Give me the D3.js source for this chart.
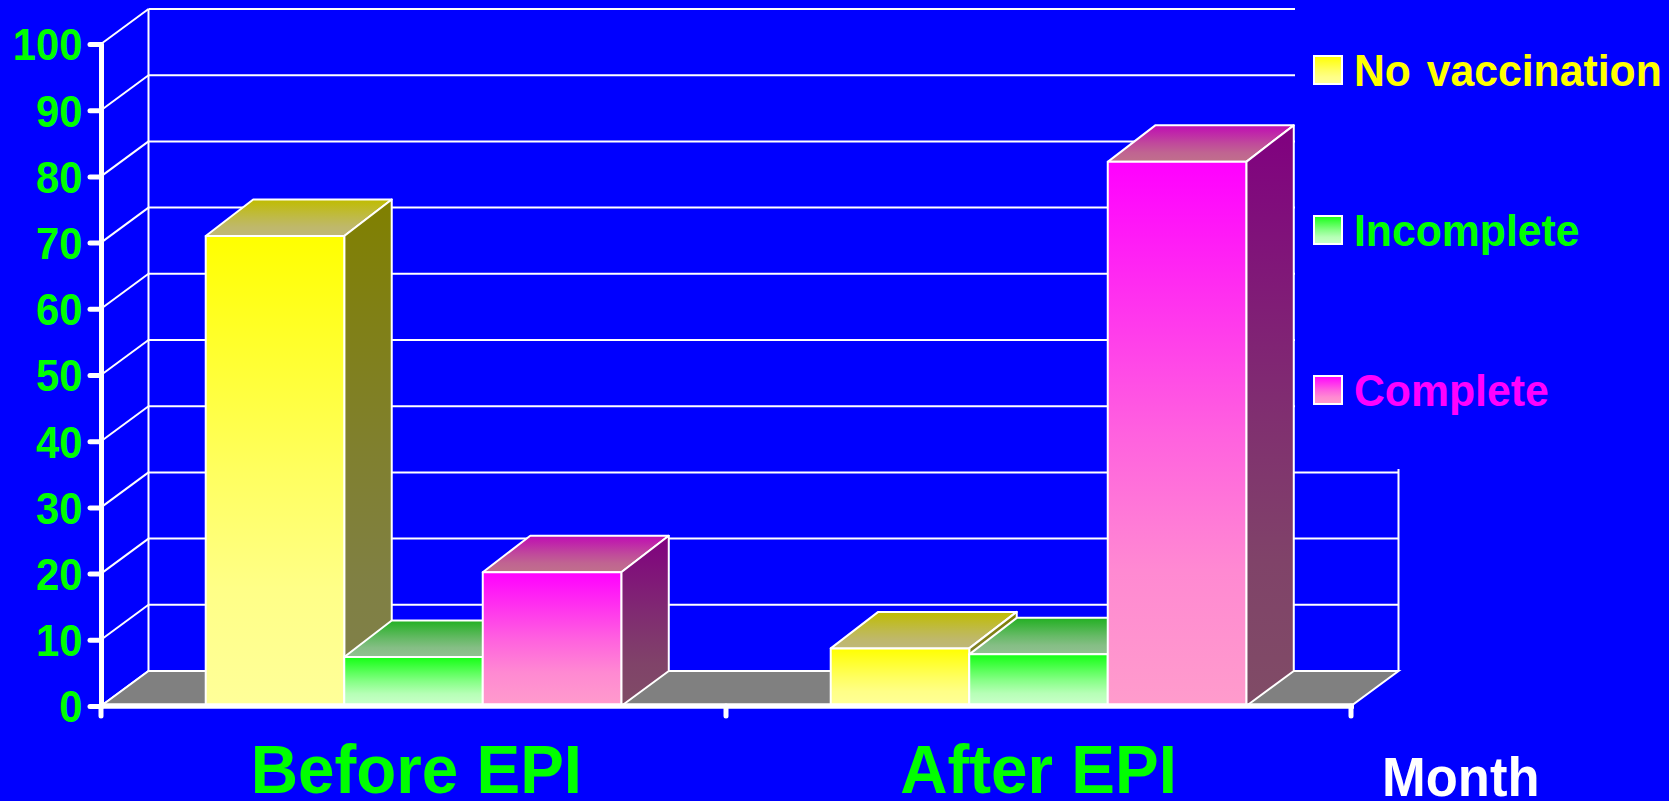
<!DOCTYPE html>
<html>
<head>
<meta charset="utf-8">
<script src="https://cdn.jsdelivr.net/npm/d3@7"></script>
<style>
  html, body { margin: 0; padding: 0; background: #0000ff; overflow: hidden; }
  text { font-family: "Liberation Sans", Arial, sans-serif; font-weight: bold; }
</style>
</head>
<body>
<script>
const periods = ['Before EPI', 'After EPI'];
const series = ['No vaccination', 'Incomplete', 'Complete'];
const noVaccination = [71, 8.7];
const incomplete = [7.4, 7.8];
const complete = [20.2, 82.2];
const yTicks = [0, 10, 20, 30, 40, 50, 60, 70, 80, 90, 100];

const values = [noVaccination, incomplete, complete];

// front / top / side gradient ends for each series
const labelColors = ['#ffff00', '#00ff00', '#ff00ff'];
const frontStops = [['#ffff00', '#ffff99'], ['#14ff14', '#ccffcc'], ['#ff00ff', '#ff9ccc']];
const topStops = [['#c0bc00', '#bfb878'], ['#22b022', '#92c092'], ['#bf0cb4', '#c0708c']];
const sideStops = [['#808000', '#80804c'], ['#008000', '#668066'], ['#800080', '#804c66']];
// the fades in the picture are not linear, they reach the pale end early
const fadeAt = [[0, 0], [0.5, 0.62], [0.75, 0.88], [1, 1]];

const width = 1669, height = 801;
const depthX = 47.5, wallY = 35, barDepthY = 36.5;

const svg = d3.select('body')
  .append('svg')
  .attr('width', width)
  .attr('height', height)
  .style('display', 'block');

svg.append('rect')
  .attr('width', width)
  .attr('height', height)
  .attr('fill', '#0000ff');

const x = d3.scaleBand().domain(periods).range([101, 1351]);
const y = d3.scaleLinear().domain([0, 100]).range([706, 44]);

// bars take up the band minus a fixed padding each side
const barX = d3.scaleBand().domain(d3.range(series.length)).range([0, x.bandwidth()]).paddingOuter(0.756);

const defs = svg.append('defs');
function addGradient(id, stops) {
  const mix = d3.interpolateRgb(stops[0], stops[1]);
  const g = defs.append('linearGradient')
    .attr('id', id)
    .attr('x1', 0).attr('y1', 0)
    .attr('x2', 0).attr('y2', 1);
  g.selectAll('stop')
    .data(fadeAt)
    .enter()
    .append('stop')
    .attr('offset', (d) => d[0])
    .attr('stop-color', (d) => mix(d[1]));
}
series.forEach((s, i) => {
  addGradient('front' + i, frontStops[i]);
  addGradient('top' + i, topStops[i]);
  addGradient('side' + i, sideStops[i]);
});

const xLeft = x.range()[0], xRight = x.range()[1];
const poly = (pts) => 'M' + pts.map((p) => p.join(',')).join('L') + 'Z';

// back wall grid
const grid = svg.append('g')
  .attr('fill', 'none')
  .attr('stroke', '#fff')
  .attr('stroke-width', 2);

grid.selectAll('.back')
  .data(yTicks)
  .enter()
  .append('line')
  .attr('x1', xLeft + depthX)
  .attr('x2', xRight + depthX)
  .attr('y1', (d) => y(d) - wallY)
  .attr('y2', (d) => y(d) - wallY);

grid.selectAll('.side')
  .data(yTicks)
  .enter()
  .append('line')
  .attr('x1', xLeft)
  .attr('x2', xLeft + depthX)
  .attr('y1', (d) => y(d))
  .attr('y2', (d) => y(d) - wallY);

grid.append('line')
  .attr('x1', xLeft + depthX)
  .attr('x2', xLeft + depthX)
  .attr('y1', y(100) - wallY)
  .attr('y2', y(0) - wallY);

grid.append('line')
  .attr('x1', xRight + depthX)
  .attr('x2', xRight + depthX)
  .attr('y1', y(0) - wallY)
  .attr('y2', 0);

// the legend box sits on top of the grid and hides its upper right part
svg.append('rect')
  .attr('x', 1295)
  .attr('y', 0)
  .attr('width', width - 1295)
  .attr('height', 469)
  .attr('fill', '#0000ff');

// floor
svg.append('path')
  .attr('d', poly([
    [xLeft, y(0)],
    [xLeft + depthX, y(0) - wallY],
    [xRight + depthX, y(0) - wallY],
    [xRight, y(0)]
  ]))
  .attr('fill', '#808080')
  .attr('stroke', '#fff')
  .attr('stroke-width', 2);

// bars
const bars = [];
periods.forEach((p, pi) => {
  series.forEach((s, si) => {
    bars.push({ period: p, index: si, value: values[si][pi] });
  });
});

const bar = svg.append('g')
  .selectAll('g')
  .data(bars)
  .enter()
  .append('g')
  .attr('stroke', '#fff')
  .attr('stroke-width', 2)
  .attr('stroke-linejoin', 'round');

const x0 = (d) => x(d.period) + barX(d.index);
const x1 = (d) => x0(d) + barX.bandwidth();

bar.append('path')
  .attr('d', (d) => poly([
    [x0(d), y(d.value)],
    [x0(d) + depthX, y(d.value) - barDepthY],
    [x1(d) + depthX, y(d.value) - barDepthY],
    [x1(d), y(d.value)]
  ]))
  .attr('fill', (d) => 'url(#top' + d.index + ')');

bar.append('path')
  .attr('d', (d) => poly([
    [x1(d), y(d.value)],
    [x1(d) + depthX, y(d.value) - barDepthY],
    [x1(d) + depthX, y(0) - wallY],
    [x1(d), y(0)]
  ]))
  .attr('fill', (d) => 'url(#side' + d.index + ')');

bar.append('path')
  .attr('d', (d) => poly([
    [x0(d), y(d.value)],
    [x1(d), y(d.value)],
    [x1(d), y(0)],
    [x0(d), y(0)]
  ]))
  .attr('fill', (d) => 'url(#front' + d.index + ')');

// y axis
const yAxis = svg.append('g')
  .attr('transform', 'translate(' + xLeft + ',0)')
  .call(d3.axisLeft(y).tickValues(yTicks).tickSize(11).tickSizeOuter(0));

yAxis.select('.domain')
  .attr('stroke', '#fff')
  .attr('stroke-width', 5)
  .attr('stroke-linecap', 'round');

yAxis.selectAll('.tick line')
  .attr('stroke', '#fff')
  .attr('stroke-width', 5)
  .attr('stroke-linecap', 'round');

yAxis.selectAll('.tick text')
  .attr('x', -19.5)
  .attr('dy', 15.8)
  .attr('transform', 'scale(0.95,1)')
  .attr('fill', '#00ff00')
  .style('font-size', '44px')
  .style('font-family', '"Liberation Sans", Arial, sans-serif');

// x axis: thick base line, ticks on the band edges, labels in the band centres
svg.append('line')
  .attr('x1', xLeft)
  .attr('x2', xRight + 3)
  .attr('y1', y(0))
  .attr('y2', y(0))
  .attr('stroke', '#fff')
  .attr('stroke-width', 5.4);

svg.selectAll('.xedge')
  .data(periods.map((p) => x(p)).concat(xRight))
  .enter()
  .append('line')
  .attr('x1', (d) => d)
  .attr('x2', (d) => d)
  .attr('y1', y(0))
  .attr('y2', y(0) + 10)
  .attr('stroke', '#fff')
  .attr('stroke-width', 5)
  .attr('stroke-linecap', 'round');

const xAxis = svg.append('g')
  .attr('transform', 'translate(0,' + y(0) + ')')
  .call(d3.axisBottom(x).tickSize(0));

xAxis.select('.domain').remove();

xAxis.selectAll('.tick text')
  .attr('x', (d, i) => i === 0 ? 3 : 0)
  .attr('y', 86.8)
  .attr('dy', 0)
  .attr('transform', 'scale(0.95,1)')
  .attr('fill', '#00ff00')
  .style('font-size', '69px')
  .style('font-family', '"Liberation Sans", Arial, sans-serif');

svg.append('text')
  .attr('transform', 'translate(1382,796) scale(0.955,1)')
  .attr('fill', '#fff')
  .style('font-size', '55px')
  .text('Month');

// legend
const legendY = d3.scalePoint().domain(series).range([56, 376]);

const legend = svg.append('g')
  .selectAll('g')
  .data(series)
  .enter()
  .append('g')
  .attr('transform', (d) => 'translate(1314,' + legendY(d) + ')');

legend.append('rect')
  .attr('width', 28)
  .attr('height', 28)
  .attr('fill', (d, i) => 'url(#front' + i + ')')
  .attr('stroke', '#fff')
  .attr('stroke-width', 2);

legend.append('text')
  .attr('transform', 'translate(40,30) scale(0.95,1)')
  .attr('fill', (d, i) => labelColors[i])
  .style('font-size', '45px')
  .style('word-spacing', '4px')
  .text((d) => d);
</script>
</body>
</html>
